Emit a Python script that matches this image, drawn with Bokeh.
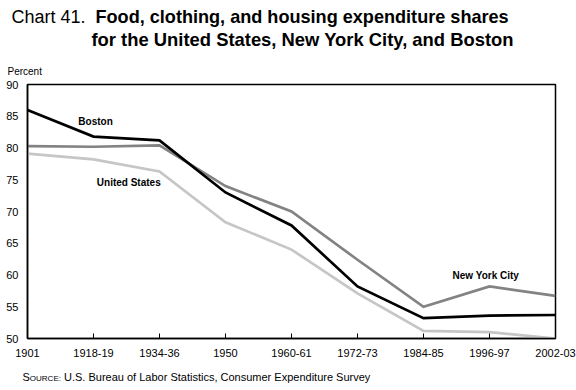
from bokeh.plotting import figure
from bokeh.models import Range1d, FixedTicker, Label, Div
from bokeh.layouts import column
from bokeh.embed import file_html
from bokeh.resources import INLINE

categories = ["1901", "1918-19", "1934-36", "1950", "1960-61", "1972-73", "1984-85", "1996-97", "2002-03"]
boston = [86.0, 81.8, 81.2, 73.0, 67.8, 58.2, 53.2, 53.6, 53.7]
new_york = [80.3, 80.2, 80.4, 74.0, 70.0, 62.4, 55.0, 58.2, 56.7]
united_states = [79.1, 78.2, 76.3, 68.3, 64.0, 57.1, 51.2, 51.0, 50.0]
y_ticks = [50, 55, 60, 65, 70, 75, 80, 85, 90]

title_prefix = "Chart 41."
title_line1 = "Food, clothing, and housing expenditure shares"
title_line2 = "for the United States, New York City, and Boston"
y_title = "Percent"
source_text = "U.S. Bureau of Labor Statistics, Consumer Expenditure Survey"

FONT = "Liberation Sans"
x = list(range(len(categories)))

W = 576
TOP_H, MAIN_H, BOT_H = 78, 284, 28


def span(left, top, size, txt, weight="normal"):
    return (f'<span style="position:absolute;left:{left}px;top:{top}px;font-size:{size}px;'
            f'line-height:{size}px;font-weight:{weight};white-space:nowrap;">{txt}</span>')


box = f"position:relative;width:{W}px;height:{{h}}px;font-family:'{FONT}';color:black;margin:0;padding:0;"

top_html = (f'<div style="{box.format(h=TOP_H)}">'
            + span(11.5, 7.5, 18, title_prefix)
            + span(95.5, 7.8, 18.1, title_line1, "bold")
            + span(91.5, 31.2, 18.4, title_line2, "bold")
            + span(7.5, 66.5, 10, y_title)
            + '</div>')
top = Div(text=top_html, width=W, height=TOP_H, margin=0)

src_inner = ('S<span style="font-size:8px;">OURCE:</span> ' + source_text)
bot_html = (f'<div style="{box.format(h=BOT_H)}">'
            + span(22.5, 9.7, 11, src_inner)
            + '</div>')
bot = Div(text=bot_html, width=W, height=BOT_H, margin=0)

# ---- main chart ----
FL, FR, FT, FB = 27, 555, 6, 260   # frame edges inside the main figure
p = figure(width=W, height=MAIN_H, output_backend="svg", toolbar_location=None,
           x_range=Range1d(0, len(categories) - 1), y_range=Range1d(50, 90),
           min_border_left=FL, min_border_right=W - FR, min_border_top=FT,
           min_border_bottom=MAIN_H - FB)
p.background_fill_color = "white"
p.border_fill_color = "white"
p.outline_line_color = "black"
p.outline_line_width = 1.5
p.xgrid.grid_line_color = None
p.ygrid.grid_line_color = None

p.xaxis.ticker = FixedTicker(ticks=x)
p.xaxis.major_label_overrides = {i: c for i, c in zip(x, categories)}
p.xaxis.major_tick_in = 5
p.xaxis.major_tick_out = 0
p.xaxis.minor_tick_line_color = None
p.xaxis.major_label_standoff = 10
p.yaxis.ticker = FixedTicker(ticks=y_ticks)
p.yaxis.major_tick_in = 0
p.yaxis.major_tick_out = 0
p.yaxis.minor_tick_line_color = None
p.yaxis.major_label_standoff = 9
for ax in (p.xaxis, p.yaxis):
    ax.axis_line_color = "black"
    ax.axis_line_width = 1.5
    ax.major_tick_line_color = "black"
    ax.major_tick_line_width = 1
    ax.major_label_text_font = FONT
    ax.major_label_text_font_size = "11px"
    ax.major_label_text_color = "black"

p.line(x, united_states, line_color="#c6c6c6", line_width=2.7, line_join="miter")
p.line(x, new_york, line_color="#838383", line_width=2.7, line_join="miter")
p.line(x, boston, line_color="black", line_width=2.7, line_join="miter")

for txt, lx, ly in [("Boston", 0.77, 84.2), ("United States", 1.05, 74.6), ("New York City", 6.44, 60.0)]:
    p.add_layout(Label(x=lx, y=ly, text=txt, text_font=FONT, text_font_size="10px",
                       text_font_style="bold", text_baseline="middle", text_color="black"))

layout = column(top, p, bot, spacing=0)
open("out.html", "w").write(file_html(layout, INLINE))
